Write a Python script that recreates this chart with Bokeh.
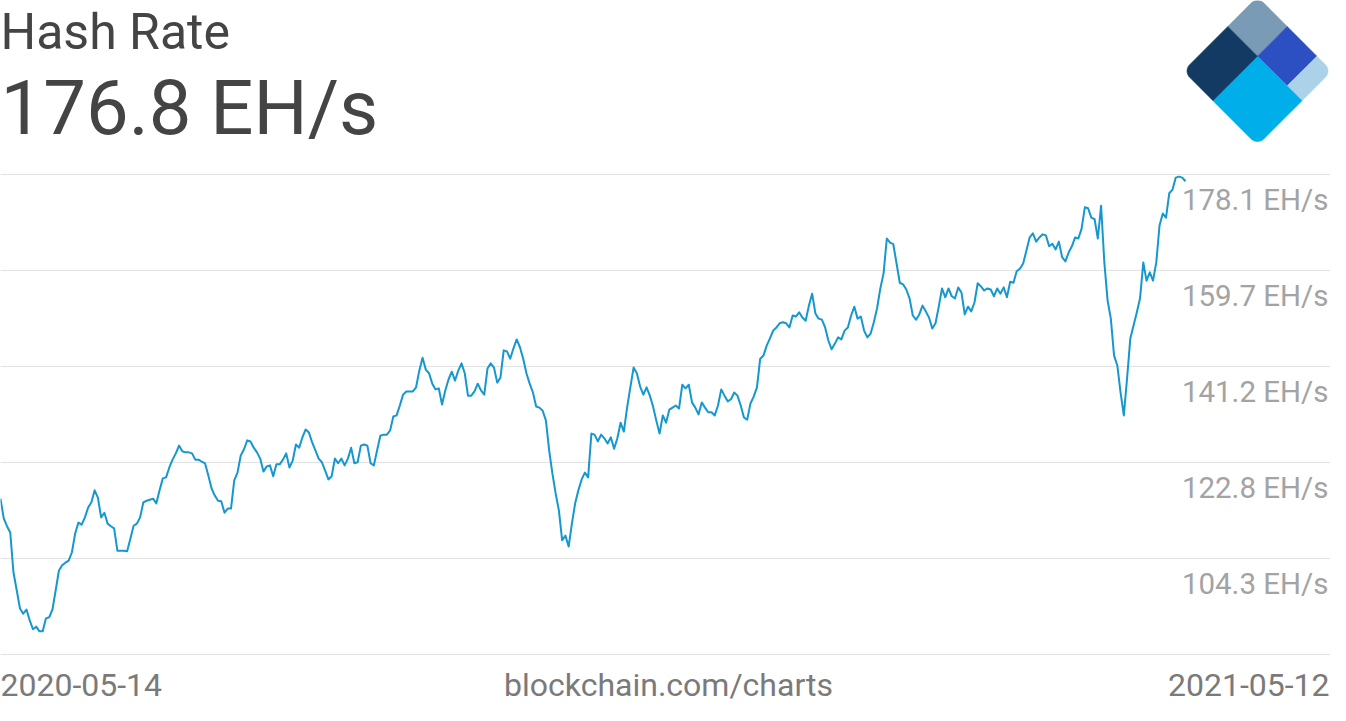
import numpy as np
import pandas as pd
from bokeh.plotting import figure
from bokeh.models import Range1d, Label, Grid, FixedTicker, ColumnDataSource
from bokeh.embed import file_html
from bokeh.resources import INLINE

# ---------------- data ----------------
title_text = "Hash Rate"
headline_text = "176.8 EH/s"
start_date = "2020-05-14"
end_date = "2021-05-12"
source_text = "blockchain.com/charts"

hash_rate = [
    115.8, 112.0, 110.5, 109.3, 101.6, 98.2, 94.7, 93.7, 94.5, 92.4,
    90.7, 91.2, 90.3, 90.3, 92.8, 93.0, 94.5, 98.2, 102.0, 103.0,
    103.5, 103.9, 105.5, 109.1, 111.2, 110.8, 112.2, 114.1, 115.1, 117.4,
    116.0, 112.2, 113.1, 111.0, 110.5, 110.1, 105.8, 105.8, 105.8, 105.7,
    108.1, 110.6, 111.0, 112.2, 115.1, 115.4, 115.6, 115.8, 114.9, 117.4,
    119.7, 119.9, 121.8, 123.3, 124.5, 126.0, 124.9, 124.7, 124.7, 124.5,
    123.3, 123.3,
    122.9, 122.6, 120.3, 117.8, 116.4, 115.4, 115.3, 113.1, 113.9, 113.9,
    119.3, 120.8, 124.1, 125.3, 127.0, 126.8, 125.6, 124.7, 123.5, 121.0,
    122.0, 122.2, 120.1, 122.4, 122.4, 123.3, 124.5, 121.8, 123.1, 126.2,
    125.6, 127.6, 129.1, 128.5, 126.6, 125.1, 123.5, 122.8, 121.2, 119.5,
    120.1, 123.5, 122.6, 123.5, 122.2, 123.5, 125.6, 122.6, 122.8, 126.0,
    126.2, 126.0, 122.6, 122.2, 125.1, 127.9, 128.1, 128.1, 128.9, 131.6,
    131.8, 133.7, 135.8,
    136.4, 136.4, 136.4, 137.2, 140.4, 142.9, 140.6, 139.9, 137.9, 136.8,
    137.0, 133.9, 136.6, 138.7, 140.2, 138.5, 140.4, 141.8, 139.9, 135.6,
    135.6, 136.4, 137.9, 136.6, 135.8, 140.8, 141.8, 141.0, 138.1, 139.1,
    144.3, 144.1, 142.7, 144.7, 146.4, 144.9, 142.7, 139.9, 137.9, 136.2,
    133.5, 133.3, 132.7, 130.8, 125.1, 120.6, 116.8, 113.5, 107.8, 108.7,
    106.6, 111.0, 114.9, 117.4, 119.5, 120.8, 119.9, 128.3, 128.1, 126.8,
    128.1, 127.4,
    126.4, 127.6, 125.4, 127.4, 130.4, 128.7, 133.3, 137.2, 141.0, 139.9,
    137.4, 135.8, 137.2, 135.6, 133.5, 130.8, 128.3, 131.8, 130.4, 132.9,
    133.3, 133.7, 133.1, 137.7, 137.0, 137.7, 134.3, 133.3, 132.0, 134.3,
    133.3, 132.4, 132.4, 131.8, 133.7, 136.8, 135.6, 134.5, 134.9, 136.2,
    135.6, 133.7, 131.4, 131.0, 134.1, 135.4, 137.2, 142.7, 143.3, 145.2,
    146.6, 148.1, 148.7, 149.5, 149.7, 149.5, 148.7, 151.0, 150.8, 151.6,
    150.6,
    150.0, 152.9, 155.2, 151.4, 150.4, 150.2, 148.7, 146.2, 144.5, 145.6,
    146.8, 146.4, 148.1, 148.7, 151.0, 152.7, 150.4, 150.8, 148.1, 146.8,
    147.5, 149.7, 152.4, 156.2, 159.1, 165.8, 165.0, 164.7, 161.0, 157.3,
    157.0, 156.0, 154.3, 151.0, 150.2, 151.2, 152.9, 151.8, 150.6, 148.5,
    149.5, 152.7, 156.2, 154.5, 156.2, 154.7, 154.3, 156.4, 155.4, 151.2,
    152.7, 151.8, 153.5, 157.2, 156.6, 155.8, 156.2, 156.0, 154.7, 156.2,
    155.2,
    156.4, 154.5, 157.5, 157.3, 159.5, 160.0, 161.0, 163.5, 166.0, 166.8,
    165.2, 166.0, 166.6, 166.4, 164.3, 164.8, 163.7, 165.2, 162.2, 161.4,
    163.1, 164.3, 166.0, 165.8, 167.7, 171.8, 171.6, 169.8, 169.5, 165.8,
    172.1, 161.2, 153.9, 150.4, 143.3, 141.4, 136.2, 131.8, 138.9, 146.6,
    149.1, 151.6, 154.3, 161.2, 157.7, 159.3, 157.7, 161.2, 168.3, 170.6,
    169.8, 174.5, 175.2, 177.5, 177.7, 177.5, 176.8,
]

tick_values = [178.1, 159.65, 141.2, 122.75, 104.3]
tick_labels = ["178.1 EH/s", "159.7 EH/s", "141.2 EH/s", "122.8 EH/s", "104.3 EH/s"]
axis_bottom = 85.85

# ---------------- layout ----------------
W, H = 1330, 705
line_end_px = 1185          # canvas x where the last date sits
top_px, bot_px = 174, 654   # canvas y (from top) of top / bottom grid lines
BASE = 0.37                 # baseline correction (em) for rendered labels

scale = (bot_px - top_px) / (max(tick_values) - axis_bottom)
y_start = axis_bottom - (H - bot_px) / scale
y_end = max(tick_values) + top_px / scale

x0 = pd.Timestamp(start_date)
x1 = pd.Timestamp(end_date)
x_end = x0 + (x1 - x0) * (W / line_end_px)

dates = pd.date_range(x0, x1, periods=len(hash_rate))
src = ColumnDataSource(data=dict(date=dates, rate=hash_rate))

p = figure(width=W, height=H, x_axis_type="datetime",
           x_range=Range1d(x0, x_end), y_range=Range1d(y_start, y_end),
           output_backend="svg", toolbar_location=None, min_border=0,
           x_axis_location=None, y_axis_location=None,
           outline_line_color=None, background_fill_color="white",
           border_fill_color="white")
p.center = []

grid = Grid(dimension=1, ticker=FixedTicker(ticks=tick_values + [axis_bottom]),
            grid_line_color="#e2e2e2", grid_line_width=1)
p.add_layout(grid)

p.line("date", "rate", source=src, line_color="#1597cf", line_width=2,
       line_join="round")

FONT = "Roboto"


def top_label(text, x, baseline_from_top, size, color, align="left"):
    y = H - (baseline_from_top - BASE * size)
    p.add_layout(Label(x=x, y=y, x_units="screen", y_units="screen",
                       text=text, text_font=FONT, text_font_size=f"{size}px",
                       text_color=color, text_baseline="alphabetic",
                       text_align=align))


LBL = 29.5
for v, t in zip(tick_values, tick_labels):
    p.add_layout(Label(x=1328, x_units="screen", y=v, y_units="data",
                       y_offset=-(36.7 - BASE * LBL), text=t, text_align="right",
                       text_baseline="alphabetic", text_font=FONT,
                       text_font_size=f"{LBL}px", text_color="#a3a3a3"))

top_label(title_text, 0, 49.5, 50, "#444444")
top_label(headline_text, 0, 136, 76, "#444444")
top_label(start_date, 0, 696, 32, "#7a7a7a")
top_label(source_text, 668, 696, 32, "#7a7a7a", "center")
top_label(end_date, W - 1, 696, 32, "#7a7a7a", "right")

# ---------------- logo (decoration, pixel space) ----------------
p.extra_x_ranges = {"px": Range1d(0, W)}
p.extra_y_ranges = {"px": Range1d(H, 0)}

S = 105.0
r = 9.0
cx, cy = 1257.0, 70.5
tvx, tvy = cx, cy - S / np.sqrt(2)
k = 1 / np.sqrt(2)


def to_px(pts):
    xs = [tvx + (a - b) * k for a, b in pts]
    ys = [tvy + (a + b) * k for a, b in pts]
    return xs, ys


def arc(ca, cb, t0, t1, n=10):
    ts = np.radians(np.linspace(t0, t1, n))
    return [(ca + r * np.cos(t), cb + r * np.sin(t)) for t in ts]


f1, f2 = 0.4 * S, 0.8 * S
pieces = [
    ([(f1, 0), (f1, f1), (0, f1)] + arc(r, r, 180, 270), "#7a9bb5"),
    ([(f1, 0), (f2, 0), (f2, f1), (f1, f1)], "#2c4fc2"),
    ([(f2, 0)] + arc(S - r, r, 270, 360) + [(S, f1), (f2, f1)], "#abd2e8"),
    ([(f1, f1), (S, f1)] + arc(S - r, S - r, 0, 90) + [(f1, S)], "#00aee9"),
    ([(0, f1), (f1, f1), (f1, S)] + arc(r, S - r, 90, 180), "#133a62"),
]
lx, ly, lc = [], [], []
for pts, c in pieces:
    xs, ys = to_px(pts)
    lx.append(xs)
    ly.append(ys)
    lc.append(c)
p.patches(lx, ly, fill_color=lc, line_color=lc, line_width=0.5,
          x_range_name="px", y_range_name="px")

open("out.html", "w").write(file_html(p, INLINE))
